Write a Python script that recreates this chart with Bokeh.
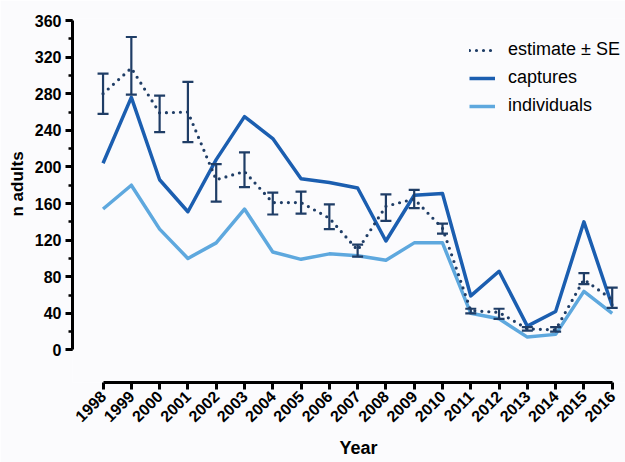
import math
from bokeh.plotting import figure
from bokeh.models import (Range1d, FixedTicker, Legend, LegendItem, Title)
from bokeh.embed import file_html
from bokeh.resources import INLINE

years = list(range(1998, 2017))
captures = [204, 276, 186, 151, 208, 255, 231, 187, 183, 177, 119, 169, 171, 59, 86, 26, 42, 140, 48]
individuals = [154, 180, 132, 100, 117, 154, 107, 99, 105, 103, 98, 117, 117, 40, 34, 14, 17, 64, 40]
estimate = [280, 308, 259, 260, 186, 195, 161, 161, 144, 109, 157, 165, 133, 43, 41, 23, 22, 77, 55]
est_upper = [302, 342, 278, 293, 203, 216, 172, 173, 159, 115, 170, 175, 138, 45, 45, 25, 25, 84, 68]
est_lower = [258, 279, 238, 227, 162, 178, 148, 149, 132, 102, 141, 155, 127, 40, 34, 21, 20, 72, 46]
y_ticks = list(range(0, 361, 40))
y_minor = list(range(0, 361, 20))

FONT = "Liberation Sans"
NAVY = "#1f3d66"
DARK = "#1b5eb0"
LIGHT = "#5ea8de"
BG = "#fbfbfd"

p = figure(width=625, height=462, output_backend="svg", toolbar_location=None,
           x_range=Range1d(1996.92, 2016.47), y_range=Range1d(-35.6, 362.2),
           min_border_left=70, min_border_right=0, min_border_top=18, min_border_bottom=79)
p.background_fill_color = BG
p.border_fill_color = BG
p.outline_line_color = None
p.xgrid.visible = False
p.ygrid.visible = False

r_ind = p.line(years, individuals, line_color=LIGHT, line_width=3.5, line_join="round")
r_cap = p.line(years, captures, line_color=DARK, line_width=3.5, line_join="round")
r_est = p.line(years, estimate, line_color=NAVY, line_width=3.2, line_dash="0 7",
               line_cap="round")
p.segment(x0=years, y0=est_lower, x1=years, y1=est_upper, line_color=NAVY, line_width=2.2)
p.dash(years, est_upper, size=11, line_color=NAVY, line_width=2.2)
p.dash(years, est_lower, size=11, line_color=NAVY, line_width=2.2)

# axes
xa = p.xaxis[0]
xa.ticker = FixedTicker(ticks=years)
xa.bounds = (1998, 2016)
xa.major_label_orientation = math.pi / 4
ya = p.yaxis[0]
ya.ticker = FixedTicker(ticks=y_ticks, minor_ticks=y_minor)
ya.bounds = (0, 360)
for ax in (xa, ya):
    ax.axis_line_width = 3
    ax.axis_line_color = "black"
    ax.major_tick_line_width = 3
    ax.major_tick_out = 7
    ax.major_tick_in = 0
    ax.minor_tick_line_width = 2.5
    ax.minor_tick_out = 4
    ax.minor_tick_in = 0
    ax.major_label_text_font = FONT
    ax.major_label_text_font_style = "bold"
    ax.major_label_text_font_size = "16px"
    ax.major_label_text_color = "black"
    ax.major_label_standoff = 4

p.add_layout(Title(text="Year", align="left", offset=267, standoff=10, text_font=FONT,
                   text_font_style="bold", text_font_size="18px", text_color="black"), "below")
p.add_layout(Title(text="n adults", align="left", offset=166, text_font=FONT,
                   text_font_style="bold", text_font_size="17px", text_color="black"), "left")

legend = Legend(items=[LegendItem(label="estimate ± SE", renderers=[r_est]),
                       LegendItem(label="captures", renderers=[r_cap]),
                       LegendItem(label="individuals", renderers=[r_ind])],
                location=(397, 266), padding=0, spacing=7, glyph_width=26, glyph_height=20,
                label_height=20, label_standoff=13, label_text_font=FONT,
                label_text_font_size="18px", label_text_color="black",
                border_line_color=None, background_fill_alpha=0)
p.add_layout(legend)

open("out.html", "w").write(file_html(p, INLINE))
